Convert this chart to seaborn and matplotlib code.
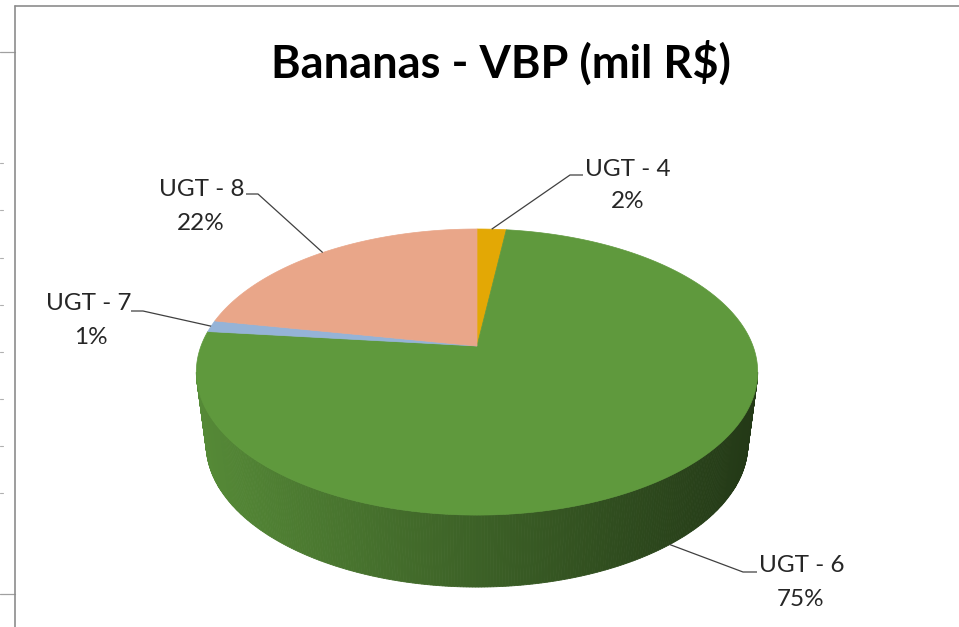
import numpy as np
import matplotlib
matplotlib.use("Agg")
import matplotlib.pyplot as plt
import seaborn as sns
from matplotlib.patches import Polygon
from matplotlib.colors import to_rgb

# ---- data ----
categories = ["UGT - 4", "UGT - 6", "UGT - 7", "UGT - 8"]
values = [2.0, 74.7, 1.3, 22.0]
colors = ["#E3A805", "#5F993D", "#95B3D7", "#E9A689"]
title = "Bananas - VBP (mil R\\$)"

sns.set_theme(style="white")
plt.rcParams["font.family"] = ["Lato", "DejaVu Sans"]

W, H = 959, 627
fig = plt.figure(figsize=(W / 100, H / 100), dpi=100)
ax = fig.add_axes([0, 0, 1, 1])
ax.set_xlim(0, W)
ax.set_ylim(H, 0)
ax.axis("off")

# ---- projection of the 3D pie ----
CX, CY, A, B, K = 477, 346, 276, 138.3, 0.182
DEPTH, SHRINK = 72, 0.965


def proj(theta):
    X, Y = np.sin(theta), np.cos(theta)
    w = 1 + K * Y
    return CX + A * X / w, CY - B * Y / w


def proj_bottom(theta):
    x, y = proj(theta)
    return CX + (x - CX) * SHRINK, y + DEPTH


total = float(sum(values))
fracs = [v / total for v in values]
starts = np.cumsum([0] + fracs[:-1]) * 2 * np.pi
ends = starts + np.array(fracs) * 2 * np.pi
mids = (starts + ends) / 2

# visible side: where cos(theta) < -K (front)
t_sil = np.arccos(-K)
front_lo, front_hi = t_sil, 2 * np.pi - t_sil
xl, _ = proj(front_hi)
xr, _ = proj(front_lo)

for s, e, c in zip(starts, ends, colors):
    lo, hi = max(s, front_lo), min(e, front_hi)
    if hi <= lo:
        continue
    ts = np.linspace(lo, hi, 300)
    base = np.array(to_rgb(c))
    for t0, t1 in zip(ts[:-1], ts[1:]):
        x0, y0 = proj(t0)
        x1, y1 = proj(t1)
        bx0, by0 = proj_bottom(t0)
        bx1, by1 = proj_bottom(t1)
        u = ((x0 + x1) / 2 - xl) / (xr - xl)
        f = 0.90 - 0.53 * u
        col = np.clip(base * f, 0, 1)
        ax.add_patch(Polygon([(x0, y0), (x1, y1), (bx1, by1), (bx0, by0)],
                             closed=True, facecolor=col, edgecolor=col,
                             linewidth=0.6, zorder=2))

# top face
for s, e, c in zip(starts, ends, colors):
    ts = np.linspace(s, e, max(4, int(400 * (e - s) / (2 * np.pi))))
    pts = [(CX, CY)] + [proj(t) for t in ts]
    ax.add_patch(Polygon(pts, closed=True, facecolor=c, edgecolor=c,
                         linewidth=0.5, zorder=3))

# ---- labels with leader lines ----
lc = "#404040"
tc = "#262626"
fs = 17.5
label_pos = {  # name center, pct center, elbow, line end (layout only)
    "UGT - 4": ((628, 170), (628, 202), (570, 175), (583, 175)),
    "UGT - 6": ((802, 565), (801, 600), (743, 572), (757, 572)),
    "UGT - 7": ((89, 303), (91, 337), (143, 311), (131, 311)),
    "UGT - 8": ((202, 189), (201, 223), (258, 194), (246, 194)),
}
for name, v, m in zip(categories, values, mids):
    (nx, ny), (px, py), (ex, ey), (hx, hy) = label_pos[name]
    if np.cos(m) < -K:
        ax_, ay_ = proj_bottom(m)
    else:
        ax_, ay_ = proj(m)
    ax.plot([ax_, ex, hx], [ay_, ey, hy], color=lc, lw=0.9, zorder=4,
            solid_capstyle="butt")
    ax.text(nx, ny, name, ha="center", va="center", fontsize=fs, color=tc)
    ax.text(px, py, f"{v / total * 100:.0f}%", ha="center", va="center",
            fontsize=fs, color=tc)

ax.text(501, 63, title, ha="center", va="center", fontsize=32.5,
        fontweight="bold", color="black")

# ---- chart frame / spreadsheet remnants ----
fc = "#8c8c8c"
ax.plot([15, 15], [6, H], color=fc, lw=1.2, zorder=5)
ax.plot([15, W], [6, 6], color=fc, lw=1.2, zorder=5)
ax.plot([0, 15], [52, 52], color="#a0a0a0", lw=0.9)
ax.plot([0, 15], [594, 594], color="#a0a0a0", lw=0.9)
for yy in [163, 210, 258, 305, 352, 399, 446, 493]:
    ax.plot([0, 3], [yy, yy], color="#b0b0b0", lw=0.8)

fig.savefig("out.png", dpi=100)
